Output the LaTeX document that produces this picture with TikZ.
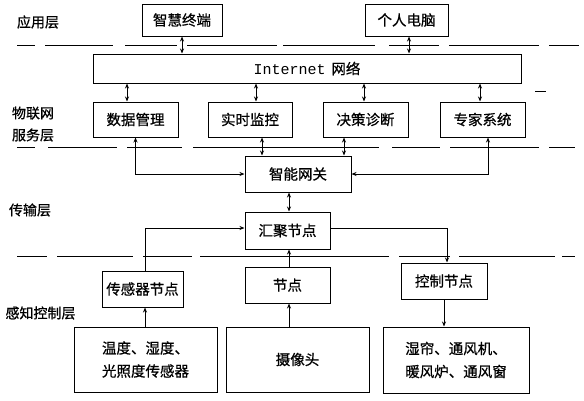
\documentclass[tikz,border=0pt]{standalone}
\usepackage{fontspec}
\setmainfont{Noto Sans CJK SC}[FakeBold=0.7]
\newfontfamily\monofam{Liberation Mono}
\usetikzlibrary{arrows.meta}
\begin{document}
\begin{tikzpicture}[x=1pt,y=-1pt,
  box/.style={draw,line width=1pt,inner sep=0pt,font=\fontsize{14.5}{17}\selectfont,align=center},
  lay/.style={font=\fontsize{14}{17}\selectfont,inner sep=0pt},
  conn/.style={line width=0.9pt,-{Stealth[length=5pt,width=4pt]}},
  bconn/.style={line width=0.9pt,{Stealth[length=5pt,width=4pt]}-{Stealth[length=5pt,width=4pt]}},
  sep/.style={line width=0.9pt}]
\useasboundingbox (0,0) rectangle (584,400);
% layer labels
\node[lay] (l1) at (38,22) {应用层};
\node[lay] (l2a) at (33,113) {物联网};
\node[lay] (l2b) at (33,135) {服务层};
\node[lay] (l3) at (30,210) {传输层};
\node[lay] (l4) at (40.5,313) {感知控制层};
% separators
\foreach \a/\b in {17/35,45/113,125/177,187/277,283/375,389/439,449/539,549/579}
  \draw[sep] (\a,45) -- (\b,45);
\foreach \a/\b in {17/35,48/117,127/182,193/379,392/440,450/539,549/575}
  \draw[sep] (\a,147) -- (\b,147);
\foreach \a/\b in {17/47,57/133,143/192,200/389,399/450,459/555,562/575}
  \draw[sep] (\a,256) -- (\b,256);
\draw[sep] (535,91) -- (546,91);
% boxes
\node[box,minimum width=80pt,minimum height=32pt] (zhihui) at (182,20) {智慧终端};
\node[box,minimum width=83pt,minimum height=32pt] (geren) at (406.5,20) {个人电脑};
\node[box,minimum width=428pt,minimum height=29pt] (internet) at (307,68.5) {{\monofam\fontsize{15}{17}\selectfont Internet}\hspace{0.4em}网络};
\node[box,minimum width=85pt,minimum height=35pt] (shuju) at (135.5,119.5) {数据管理};
\node[box,minimum width=84pt,minimum height=35pt] (shishi) at (250,119.5) {实时监控};
\node[box,minimum width=85pt,minimum height=35pt] (juece) at (365.5,119.5) {决策诊断};
\node[box,minimum width=85pt,minimum height=35pt] (zhuanjia) at (482.5,119.5) {专家系统};
\node[box,minimum width=106pt,minimum height=36pt] (gateway) at (298,174) {智能网关};
\node[box,minimum width=85pt,minimum height=37pt] (huiju) at (287.5,230.5) {汇聚节点};
\node[box,minimum width=85pt,minimum height=36pt] (jiedian) at (287.5,285) {节点};
\node[box,minimum width=81pt,minimum height=36pt] (chuan) at (142.5,289) {传感器节点};
\node[box,minimum width=86pt,minimum height=36pt] (kongzhi) at (444,281) {控制节点};
\node[box,minimum width=143pt,minimum height=65pt,font=\fontsize{14.5}{23}\selectfont] (wendu) at (145.5,359.5) {温度、湿度、\\光照度传感器};
\node[box,minimum width=143pt,minimum height=65pt] (shexiang) at (297.5,359.5) {摄像头};
\node[box,minimum width=146pt,minimum height=66pt,font=\fontsize{14.5}{23}\selectfont] (shilian) at (456,360) {湿帘、通风机、\\暖风炉、通风窗};
% connectors
\draw[bconn] (zhihui.south) -- (zhihui.south |- internet.north);
\draw[bconn] ([xshift=2.5pt]geren.south) -- ([xshift=2.5pt]geren.south |- internet.north);
\draw[bconn] ([xshift=-8.5pt]shuju.north |- internet.south) -- ([xshift=-8.5pt]shuju.north);
\draw[bconn] ([xshift=6pt]shishi.north |- internet.south) -- ([xshift=6pt]shishi.north);
\draw[bconn] ([xshift=-1.5pt]juece.north |- internet.south) -- ([xshift=-1.5pt]juece.north);
\draw[bconn] ([xshift=-2.5pt]zhuanjia.north |- internet.south) -- ([xshift=-2.5pt]zhuanjia.north);
\draw[bconn] (shuju.south) |- (gateway.west);
\draw[bconn] ([xshift=12pt]shishi.south) -- ([xshift=12pt]shishi.south |- gateway.north);
\draw[bconn] ([xshift=-21.5pt]juece.south) -- ([xshift=-21.5pt]juece.south |- gateway.north);
\draw[bconn] ([xshift=5.5pt]zhuanjia.south) |- (gateway.east);
\draw[bconn] ([xshift=1.5pt]huiju.north |- gateway.south) -- ([xshift=1.5pt]huiju.north);
\draw[conn] ([xshift=2.5pt]chuan.north) |- ([yshift=2.5pt]huiju.west);
\draw[conn] ([yshift=2.5pt]huiju.east) -| ([xshift=3pt]kongzhi.north);
\draw[conn] ([xshift=1.5pt]jiedian.north) -- ([xshift=1.5pt]huiju.south);
\draw[conn] ([xshift=2.5pt]chuan.south |- wendu.north) -- ([xshift=2.5pt]chuan.south);
\draw[conn] ([xshift=1.5pt]jiedian.south |- shexiang.north) -- ([xshift=1.5pt]jiedian.south);
\draw[conn] (kongzhi.south) -- (kongzhi.south |- shilian.north);
\end{tikzpicture}
\end{document}
